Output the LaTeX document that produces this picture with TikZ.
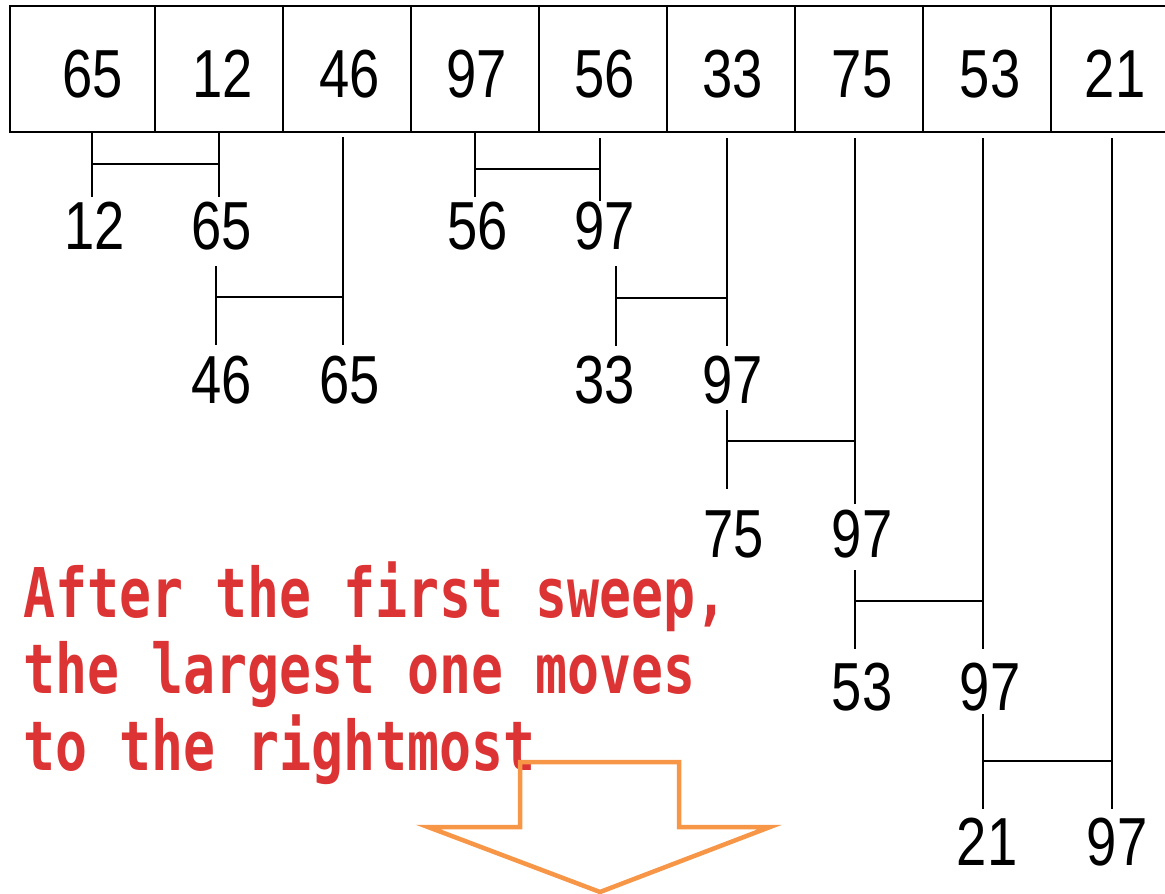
\documentclass[tikz,border=0pt]{standalone}
\usepackage{fontspec}
\newfontfamily\numfont[FakeStretch=0.8]{Liberation Sans}
\newfontfamily\capfont[FakeStretch=0.775]{DejaVu Sans Mono}
\definecolor{capred}{RGB}{220,52,52}
\definecolor{arroworange}{RGB}{247,150,70}
\begin{document}
\begin{tikzpicture}[x=1pt,y=-1pt,
  cell/.style={draw,line width=2.5pt,minimum height=126pt,inner sep=0pt},
  num/.style={font=\numfont\fontsize{68}{68}\selectfont,anchor=base,inner sep=0pt},
  link/.style={line width=2pt},
  captext/.style={font=\capfont\bfseries\fontsize{68.6}{70}\selectfont,anchor=base west,inner sep=0pt,text=capred},
  bigarrow/.style={draw=arroworange,line width=4.5pt,line join=miter}]
\clip (0,0) rectangle (1165,894);
% cells
\node[cell,minimum width=145pt] (c1) at (82.5,69) {};
\foreach \i/\cx in {2/219,3/347,4/475,5/603,6/731,7/859,8/987,9/1115}{
  \node[cell,minimum width=128pt] (c\i) at (\cx,69) {};
}
% top numbers
\foreach \i/\x/\v in {1/93/65,2/223/12,3/350/46,4/477/97,5/605/56,6/733/33,7/862/75,8/990/53,9/1115/21}{
  \node[num] (t\i) at (\x,97) {\v};
}
% compare-and-swap brackets
\foreach \i/\lx/\lt/\lb/\rx/\rt/\rb/\hy in {
  1/92/133/197/219/133/197/164,
  2/216/266/345/343/137/345/297,
  3/475/133/197/600/138/201/169,
  4/616/266/346/727/138/346/298,
  5/727/410/489/855/138/504/441,
  6/855/570/649/983/138/649/601,
  7/983/714/809/1112/138/809/761}{
  \coordinate (L\i t) at (\lx,\lt);
  \coordinate (L\i b) at (\lx,\lb);
  \coordinate (R\i t) at (\rx,\rt);
  \coordinate (R\i b) at (\rx,\rb);
  \coordinate (H\i l) at (\lx,\hy);
  \coordinate (H\i r) at (\rx,\hy);
  \draw[link] (L\i t) -- (L\i b);
  \draw[link] (R\i t) -- (R\i b);
  \draw[link] (H\i l) -- (H\i r);
}
% result numbers
\foreach \n/\x/\y/\v in {
  a1/95/249/12, a2/222/249/65, a3/478/249/56, a4/605/249/97,
  b1/222/403/46, b2/350/403/65, b3/605/403/33, b4/733/403/97,
  d1/734/557/75, d2/862/557/97,
  e1/862/710/53, e2/990/710/97,
  f1/987/865/21, f2/1117/865/97}{
  \node[num] (\n) at (\x,\y) {\v};
}
% caption
\node[captext] (m1) at (23,617) {After the first sweep,};
\node[captext] (m2) at (23,693) {the largest one moves};
\node[captext] (m3) at (23,770) {to the rightmost};
% down arrow
\draw[bigarrow] (520,762) -- (679,762) -- (679,827) -- (770,827) -- (600,892) -- (428,827) -- (520,827) -- cycle;
\end{tikzpicture}
\end{document}
